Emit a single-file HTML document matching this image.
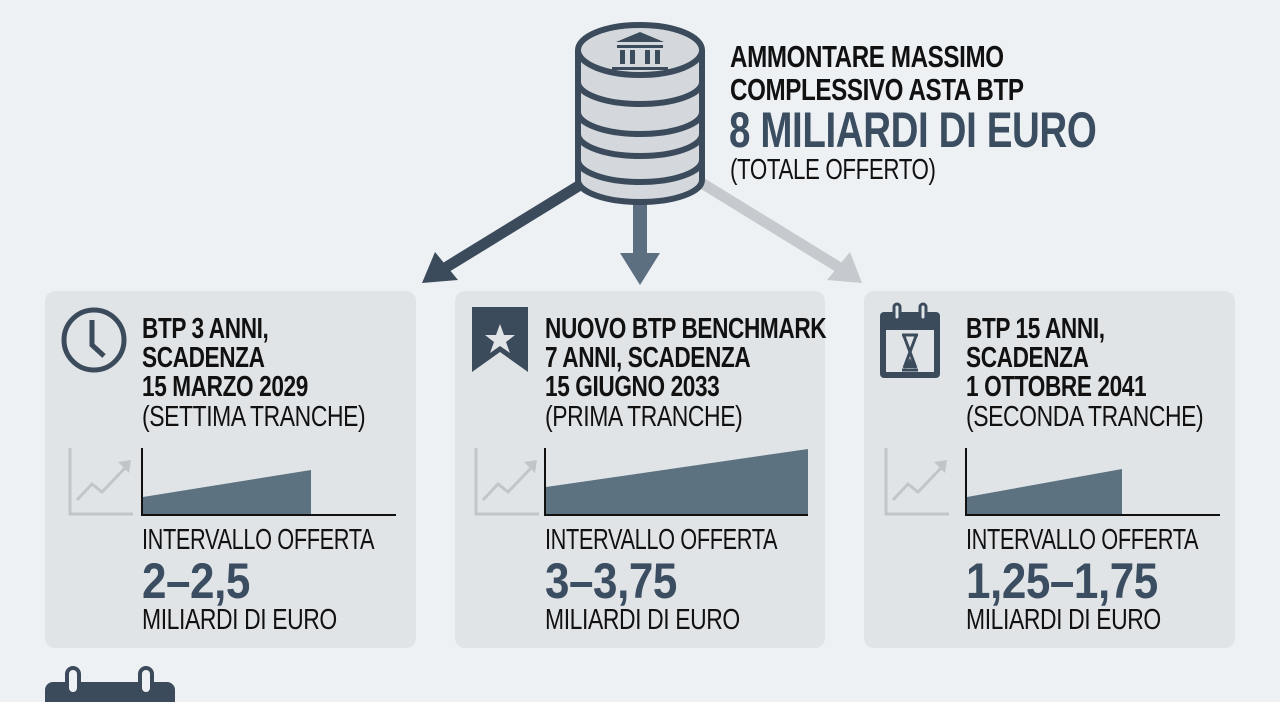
<!DOCTYPE html>
<html><head><meta charset="utf-8"><style>
body{margin:0;width:1280px;height:702px;overflow:hidden;background:#eef1f4;position:relative;font-family:"Liberation Sans",sans-serif;color:#111;}
.a{position:absolute;white-space:nowrap;transform-origin:0 0;}
.card{position:absolute;top:291px;height:357px;background:#e1e4e7;border-radius:10px;}
.t{font-weight:bold;font-size:29px;line-height:29px;letter-spacing:-0.5px;transform:scaleX(0.78)}
.s{font-size:29px;line-height:30px;letter-spacing:-0.5px;transform:scaleX(0.79)}
.i{font-size:29px;line-height:30px;letter-spacing:-0.5px;transform:scaleX(0.75)}
.big{font-weight:bold;font-size:50px;line-height:50px;color:#3b4d60;letter-spacing:-0.5px;transform:scaleX(0.88)}
</style></head><body>
<div class="card" style="left:45px;width:371px"></div>
<div class="card" style="left:455px;width:370px"></div>
<div class="card" style="left:864px;width:371px"></div>

<svg class="a" style="left:0;top:0" width="1280" height="702">
<line x1="585" y1="182" x2="445" y2="268" stroke="#3b4b5c" stroke-width="11"/>
<polygon points="422,283 435,252 458,280" fill="#3b4b5c"/>
<rect x="633" y="200" width="14" height="55" fill="#5c6f80"/>
<polygon points="620,253 660,253 640,285" fill="#5c6f80"/>
<line x1="700" y1="182" x2="840" y2="268" stroke="#c6cace" stroke-width="11"/>
<polygon points="862,283 827,280 850,252" fill="#c6cace"/>
<g stroke="#3b4b5c" stroke-width="6" fill="#d4d8dc">
<path d="M578 50 V180 A62 22 0 0 0 702 180 V50"/>
<path d="M578 82 A62 22 0 0 0 702 82 M578 112 A62 22 0 0 0 702 112 M578 134 A62 22 0 0 0 702 134 M578 160 A62 22 0 0 0 702 160" fill="none"/>
<ellipse cx="640" cy="50" rx="62" ry="25"/>
</g>
<g fill="#3b4b5c"><polygon points="616,42 640,32 664,42"/><rect x="617" y="45" width="46" height="3"/><rect x="620" y="50" width="5" height="14"/><rect x="630" y="50" width="5" height="14"/><rect x="645" y="50" width="5" height="14"/><rect x="655" y="50" width="5" height="14"/><rect x="612" y="67" width="56" height="3"/></g>
<circle cx="94" cy="340" r="30" fill="none" stroke="#3b4b5c" stroke-width="5"/>
<path d="M92 320 V345 L104 356" fill="none" stroke="#3b4b5c" stroke-width="5"/>
<g fill="none" stroke="#c2c5c8" stroke-width="3">
<path d="M70 448 V514 H133 M476 448 V514 H539 M886 448 V514 H949"/>
<path d="M77 500 L92 484 L102 492 L128 465 M483 500 L498 484 L508 492 L534 465 M893 500 L908 484 L918 492 L944 465"/>
</g>
<g fill="#c2c5c8"><polygon points="131,460 118,462 129,473"/><polygon points="537,460 524,462 535,473"/><polygon points="947,460 934,462 945,473"/></g>
<g stroke="#111" stroke-width="2" fill="none">
<path d="M142 448 V515 H396"/><path d="M545 448 V515 H808"/><path d="M966 448 V515 H1220"/></g>
<polygon points="143,497 311,470 311,514 143,514" fill="#5c7280"/>
<polygon points="546,487 808,449 808,514 546,514" fill="#5c7280"/>
<polygon points="967,497 1122,469 1122,514 967,514" fill="#5c7280"/>
<path d="M472 307 H528 V372 L500 352 L472 372 Z" fill="#3b4b5c"/>
<polygon points="500,324 504,335 515,335 506,342 510,353 500,346 490,353 494,342 485,335 496,335" fill="#e1e4e7"/>
<rect x="880" y="312" width="60" height="66" rx="4" fill="#3b4b5c"/>
<rect x="886" y="330" width="48" height="42" fill="#e1e4e7"/>
<rect x="894" y="304" width="6" height="16" rx="3" fill="#e1e4e7" stroke="#3b4b5c" stroke-width="3"/>
<rect x="920" y="304" width="6" height="16" rx="3" fill="#e1e4e7" stroke="#3b4b5c" stroke-width="3"/>
<path d="M902 335 H918 M902 370 H918 M904 336 L916 368 M916 336 L904 368" stroke="#3b4b5c" stroke-width="3" fill="none"/>
<polygon points="904,368 916,368 910,358" fill="#3b4b5c"/>
<rect x="45" y="682" width="130" height="30" rx="8" fill="#3b4b5c"/>
<rect x="67" y="668" width="12" height="26" rx="6" fill="#eef1f4" stroke="#3b4b5c" stroke-width="4"/>
<rect x="140" y="668" width="12" height="26" rx="6" fill="#eef1f4" stroke="#3b4b5c" stroke-width="4"/>
</svg>

<div class="a t" style="left:730px;top:40px;font-size:31px;line-height:33px;transform:scaleX(0.78)">AMMONTARE MASSIMO<br>COMPLESSIVO ASTA BTP</div>
<div class="a big" style="left:729px;top:104px;font-size:50px;line-height:52px;transform:scaleX(0.77)">8 MILIARDI DI EURO</div>
<div class="a s" style="left:730px;top:155px;transform:scaleX(0.77)">(TOTALE OFFERTO)</div>

<div class="a t" style="left:142px;top:315px">BTP 3 ANNI,<br>SCADENZA<br>15 MARZO 2029</div>
<div class="a s" style="left:142px;top:402px">(SETTIMA TRANCHE)</div>
<div class="a i" style="left:142px;top:525px">INTERVALLO OFFERTA</div>
<div class="a big" style="left:142px;top:556px">2–2,5</div>
<div class="a s" style="left:142px;top:605px">MILIARDI DI EURO</div>

<div class="a t" style="left:545px;top:315px">NUOVO BTP BENCHMARK<br>7 ANNI, SCADENZA<br>15 GIUGNO 2033</div>
<div class="a s" style="left:545px;top:402px">(PRIMA TRANCHE)</div>
<div class="a i" style="left:545px;top:525px">INTERVALLO OFFERTA</div>
<div class="a big" style="left:545px;top:556px">3–3,75</div>
<div class="a s" style="left:545px;top:605px">MILIARDI DI EURO</div>

<div class="a t" style="left:966px;top:315px">BTP 15 ANNI,<br>SCADENZA<br>1 OTTOBRE 2041</div>
<div class="a s" style="left:966px;top:402px">(SECONDA TRANCHE)</div>
<div class="a i" style="left:966px;top:525px">INTERVALLO OFFERTA</div>
<div class="a big" style="left:966px;top:556px">1,25–1,75</div>
<div class="a s" style="left:966px;top:605px">MILIARDI DI EURO</div>
</body></html>
